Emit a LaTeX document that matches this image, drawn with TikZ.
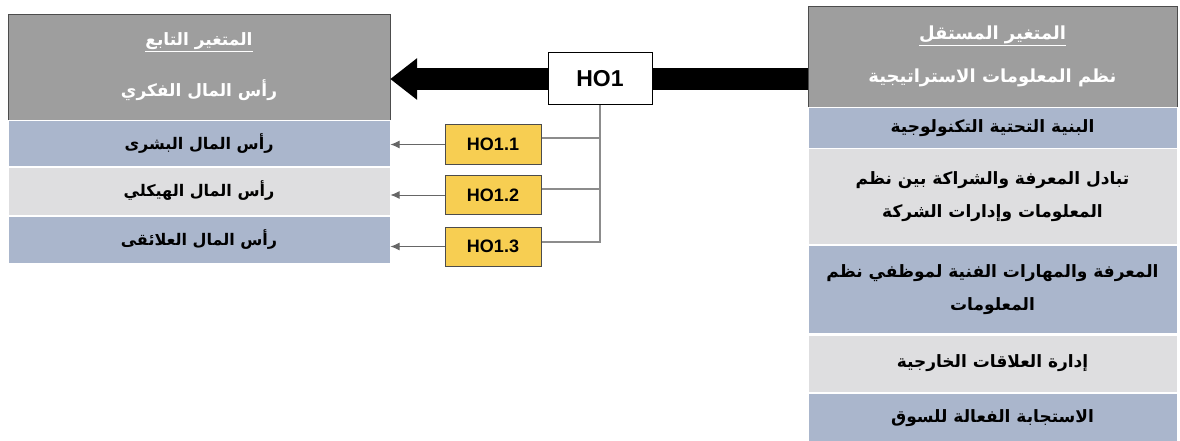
\documentclass[tikz,border=0pt]{standalone}
\usepackage{fontspec}
\setmainfont{Liberation Sans}
\newfontfamily\arabicfont[Script=Arabic]{DejaVu Sans}
\TeXXeTstate=1
\usepackage{tikz}
\usetikzlibrary{calc}
\usetikzlibrary{arrows.meta}
\tikzset{>=latex}
\definecolor{headgray}{RGB}{158,158,158}
\definecolor{rowblue}{RGB}{170,182,204}
\definecolor{rowlight}{RGB}{222,222,224}
\definecolor{hoyellow}{RGB}{247,206,82}
\definecolor{linkgray}{RGB}{140,140,140}
\tikzset{
	headbox/.style={draw=gray!60!black, fill=headgray, text=white, align=center, inner sep=0pt,
		font=\arabicfont\bfseries\fontsize{17}{20}\selectfont},
	rowbox/.style={draw=white, line width=1pt, align=center, inner sep=0pt,
		font=\arabicfont\bfseries\fontsize{16}{19}\selectfont},
	hobox/.style={draw=black, fill=white, line width=1pt, minimum width=104pt, minimum height=52pt,
		font=\bfseries\fontsize{23}{26}\selectfont},
	subbox/.style={draw=black!70, fill=hoyellow, line width=1pt, minimum width=96pt, minimum height=39pt,
		font=\bfseries\fontsize{18}{20}\selectfont},
	bigarrow/.style={line width=22pt, -{Triangle[length=27pt,width=40pt]}},
	link/.style={draw=linkgray, line width=2pt},
	subarrow/.style={draw=black!60, line width=1pt, -{Latex[length=9pt,width=8pt]}},
}
\newcommand{\ar}[1]{\beginR #1\endR}

\begin{document}
\begin{tikzpicture}[x=1pt,y=-1pt]
			\useasboundingbox (0,0) rectangle (1180,441);
			% dependent variable (left)
			\node[headbox, minimum width=382pt, minimum height=106pt] (depHead) at (199,67)
				{\underline{\ar{المتغير التابع}}\\[27pt]\ar{رأس المال الفكري}};
			\node[rowbox, fill=rowblue, minimum width=382pt, minimum height=46pt] (depRowA) at (199,143.5) {\ar{رأس المال البشرى}};
			\node[rowbox, fill=rowlight, minimum width=382pt, minimum height=48pt] (depRowB) at (199,191) {\ar{رأس المال الهيكلي}};
			\node[rowbox, fill=rowblue, minimum width=382pt, minimum height=47pt] (depRowC) at (199,240) {\ar{رأس المال العلائقى}};
			
			% independent variable (right)
			\node[headbox, minimum width=369pt, minimum height=101pt, font=\arabicfont\bfseries\fontsize{18}{21}\selectfont] (indHead) at (992.5,56.5)
				{\underline{\ar{المتغير المستقل}}\\[22pt]\ar{نظم المعلومات الاستراتيجية}};
			\tikzset{rowbox/.append style={font=\arabicfont\bfseries\fontsize{17}{20}\selectfont}}
			\node[rowbox, fill=rowblue, minimum width=369pt, minimum height=41pt] (indRowA) at (992.5,128) {\ar{البنية التحتية التكنولوجية}};
			\node[rowbox, fill=rowlight, minimum width=369pt, minimum height=96pt] (indRowB) at (992.5,196.5)
				{\ar{تبادل المعرفة والشراكة بين نظم}\\[13pt]\ar{المعلومات وإدارات الشركة}};
			\node[rowbox, fill=rowblue, minimum width=369pt, minimum height=88pt] (indRowC) at (992.5,289.5)
				{\ar{المعرفة والمهارات الفنية لموظفي نظم}\\[13pt]\ar{المعلومات}};
			\node[rowbox, fill=rowlight, minimum width=369pt, minimum height=57pt] (indRowD) at (992.5,363.5) {\ar{إدارة العلاقات الخارجية}};
			\node[rowbox, fill=rowblue, minimum width=369pt, minimum height=50pt] (indRowE) at (992.5,418) {\ar{الاستجابة الفعالة للسوق}};
			
			% hypotheses
			\coordinate (hoPos) at (600,79);
			\draw[bigarrow] (indHead.west |- hoPos) -- (depHead.east |- hoPos);
			\node[hobox] (hoMain) at (hoPos) {HO1};
			\node[subbox] (hoA) at (493,144.5) {HO1.1};
			\node[subbox] (hoB) at (493,195) {HO1.2};
			\node[subbox] (hoC) at (493,246.5) {HO1.3};
			
			\coordinate (brA) at ([yshift=6pt]hoA.east);
			\coordinate (brB) at ([yshift=6pt]hoB.east);
			\coordinate (brC) at ([yshift=5pt]hoC.east);
			\draw[link] (hoMain.south) |- (brC);
			\draw[link] (brA) -- (brA -| hoMain.south);
			\draw[link] (brB) -- (brB -| hoMain.south);
			
			\draw[subarrow] (hoA.west) -- (depRowA.east |- hoA.west);
			\draw[subarrow] (hoB.west) -- (depRowB.east |- hoB.west);
			\draw[subarrow] (hoC.west) -- (depRowC.east |- hoC.west);
\end{tikzpicture}
\end{document}
